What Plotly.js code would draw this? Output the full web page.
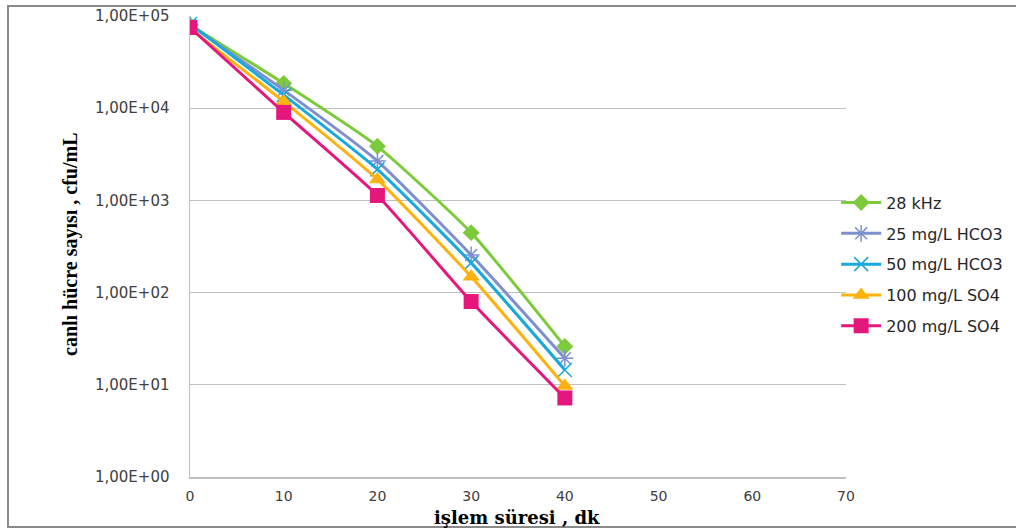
<!DOCTYPE html>
<html>
<head>
<meta charset="utf-8">
<script src="https://cdn.plot.ly/plotly-3.0.1.min.js"></script>
<style>
html,body{margin:0;padding:0;background:#fff;}
#chart{width:1016px;height:530px;}
</style>
</head>
<body>
<div id="chart"></div>
<script>
// Data
const times = [0, 10, 20, 30, 40];
const seriesNames = ["28 kHz", "25 mg/L HCO3", "50 mg/L HCO3", "100 mg/L SO4", "200 mg/L SO4"];
const s28kHz   = [80000, 18600, 3860, 447, 26];
const sHCO3_25 = [80000, 15700, 2670, 256, 19.4];
const sHCO3_50 = [82000, 13900, 2170, 210, 14.5];
const sSO4_100 = [73000, 11800, 1690, 149, 9.7];
const sSO4_200 = [75000, 9000, 1130, 80, 7.2];
const yTickVals = [1, 10, 100, 1000, 10000, 100000];
const yTickText = ["1,00E+00", "1,00E+01", "1,00E+02", "1,00E+03", "1,00E+04", "1,00E+05"];
const xTickVals = [0, 10, 20, 30, 40, 50, 60, 70];

const allSeries = [s28kHz, sHCO3_25, sHCO3_50, sSO4_100, sSO4_200];
const colors = ["#7dcb3c", "#7d8fcf", "#18a9dc", "#ffb20f", "#e6177c"];
const markers = [
  {symbol: "diamond", size: 13},
  {symbol: "asterisk-open", size: 14},
  {symbol: "x-thin-open", size: 14},
  {symbol: "triangle-up", size: 15},
  {symbol: "square", size: 15}
];

const traces = allSeries.map((vals, i) => ({
  x: times,
  y: vals,
  name: seriesNames[i],
  legendgroup: "g" + i,
  type: "scatter",
  mode: "lines+markers",
  line: {color: colors[i], width: 3, shape: "spline", smoothing: 0.5},
  marker: {
    symbol: markers[i].symbol,
    size: markers[i].size,
    color: colors[i],
    line: {color: colors[i], width: (markers[i].symbol.indexOf("open") >= 0) ? 1.5 : 0}
  }
}));

const tickFontFamily = "DejaVu Sans, Open Sans, sans-serif";

const layout = {
  width: 1016,
  height: 530,
  margin: {l: 190, r: 170, t: 16, b: 53, autoexpand: false},
  paper_bgcolor: "#ffffff",
  plot_bgcolor: "#ffffff",
  font: {family: tickFontFamily, size: 14, color: "#404040"},
  showlegend: true,
  legend: {
    x: 0.985, y: 0.632, xanchor: "left", yanchor: "top",
    bgcolor: "rgba(0,0,0,0)",
    font: {family: tickFontFamily, size: 16, color: "#262626"},
    tracegroupgap: 7,
    traceorder: "grouped",
    itemwidth: 40
  },
  xaxis: {
    range: [0, 70],
    tickvals: xTickVals,
    ticktext: xTickVals.map(String),
    showgrid: false,
    zeroline: false,
    showline: true,
    linecolor: "#bfbfbf",
    linewidth: 1.5,
    ticks: "",
    ticklabelstandoff: 6,
    tickfont: {family: tickFontFamily, size: 14, color: "#404040"},
    fixedrange: true
  },
  yaxis: {
    type: "log",
    range: [0, 5],
    tickvals: yTickVals,
    ticktext: yTickText,
    showgrid: true,
    gridcolor: "#c0c0c0",
    gridwidth: 1.2,
    zeroline: false,
    showline: true,
    linecolor: "#bfbfbf",
    linewidth: 1.5,
    ticks: "",
    ticklabelstandoff: 16,
    tickfont: {family: tickFontFamily, size: 15, color: "#404040"},
    fixedrange: true
  },
  annotations: [
    {
      text: "<b>canlı hücre sayısı , cfu/mL</b>",
      xref: "paper", yref: "paper",
      x: (70 - 190) / 656, y: (477 - 244) / 461,
      xanchor: "center", yanchor: "middle",
      textangle: -90,
      showarrow: false,
      font: {family: "Liberation Serif, Times New Roman, serif", size: 20, color: "#000000"}
    },
    {
      text: "<b>işlem süresi , dk</b>",
      xref: "paper", yref: "paper",
      x: (517 - 190) / 656, y: (477 - 517) / 461,
      xanchor: "center", yanchor: "middle",
      showarrow: false,
      font: {family: "DejaVu Serif, Liberation Serif, serif", size: 18, color: "#000000"}
    }
  ],
  shapes: [
    {
      type: "rect", xref: "paper", yref: "paper", layer: "below",
      x0: (8 - 190) / 656, x1: (1020 - 190) / 656,
      y0: (477 - 527) / 461, y1: (477 - 6) / 461,
      line: {color: "#8a8a8a", width: 2},
      fillcolor: "rgba(0,0,0,0)"
    }
  ]
};

Plotly.newPlot("chart", traces, layout, {staticPlot: true, displayModeBar: false});
</script>
</body>
</html>
